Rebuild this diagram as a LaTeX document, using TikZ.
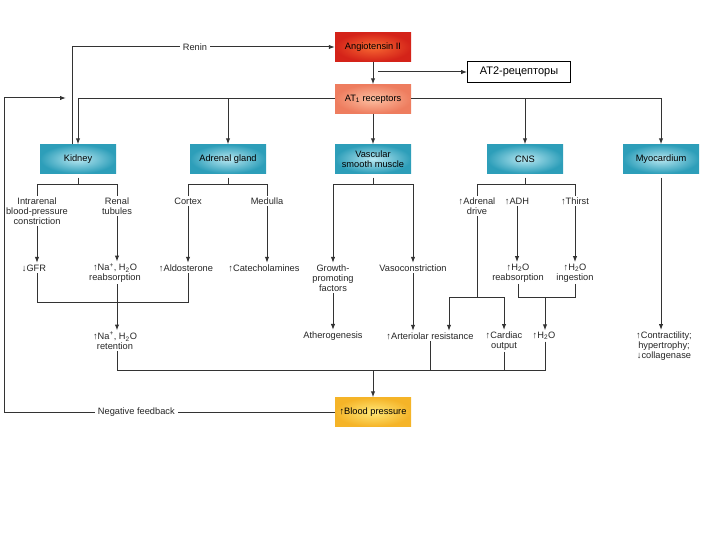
\documentclass[tikz,border=0pt]{standalone}
\usepackage{fontspec}
\setmainfont{Liberation Sans}
\usetikzlibrary{arrows.meta}
\definecolor{angin}{RGB}{248,105,50}
\definecolor{angout}{RGB}{212,35,25}
\definecolor{atin}{RGB}{252,192,162}
\definecolor{atout}{RGB}{238,125,95}
\definecolor{orgin}{RGB}{185,232,242}
\definecolor{orgout}{RGB}{45,158,185}
\definecolor{bpin}{RGB}{255,232,120}
\definecolor{bpout}{RGB}{245,180,40}
\begin{document}
\begin{tikzpicture}[x=1bp,y=-1bp,
    font=\fontsize{9.3}{10}\selectfont,
    ln/.style={line width=1pt, black!80},
    arr/.style={ln, -{Latex[length=6bp,width=4.4bp]}},
    box/.style={minimum width=76bp, minimum height=29bp, inner sep=1pt, align=center, shading=radial},
    organ/.style={box, inner color=orgin, outer color=orgout},
    txt/.style={align=center, inner sep=1.5pt, text=black!85},
    lbl/.style={fill=white, inner sep=3pt, text=black!85}]
  \useasboundingbox (0,0) rectangle (720,540);
  \node[box, inner color=angin, outer color=angout] (ang) at (373,47) {Angiotensin II};
  \node[box, inner color=atin, outer color=atout] (at1) at (373,99) {AT\textsubscript{1} receptors};
  \node[draw, line width=0.6pt, minimum width=103bp, minimum height=21bp, inner sep=1pt,
    font=\fontsize{11}{12}\selectfont] (at2) at (519,72) {AT2-рецепторы};
  \node[organ] (kidney) at (78,159) {Kidney};
  \node[organ] (adrenal) at (228,159) {Adrenal gland};
  \node[organ] (vsm) at (373,159) {Vascular\\smooth muscle};
  \node[organ] (cns) at (525,159) {CNS};
  \node[organ] (myo) at (661,159) {Myocardium};
  \node[box, inner color=bpin, outer color=bpout] (bp) at (373,412) {↑Blood pressure};

  \node[txt] (intra) at (37,211) {Intrarenal\\blood-pressure\\constriction};
  \node[txt] (tub) at (117,206) {Renal\\tubules};
  \node[txt] (cortex) at (188,201) {Cortex};
  \node[txt] (medulla) at (267,201) {Medulla};
  \node[txt] (drive) at (477,206) {↑Adrenal\\drive};
  \node[txt] (adh) at (517,201) {↑ADH};
  \node[txt] (thirst) at (575,201) {↑Thirst};

  \node[txt] (gfr) at (34,268) {↓GFR};
  \node[txt] (reab) at (115,273) {↑Na\textsuperscript{+}, H\textsubscript{2}O\\reabsorption};
  \node[txt] (aldo) at (186,268) {↑Aldosterone};
  \node[txt] (cate) at (264,268) {↑Catecholamines};
  \node[txt] (growth) at (333,278) {Growth-\\promoting\\factors};
  \node[txt] (vaso) at (413,268) {Vasoconstriction};
  \node[txt] (h2oreab) at (518,273) {↑H\textsubscript{2}O\\reabsorption};
  \node[txt] (ingest) at (575,273) {↑H\textsubscript{2}O\\ingestion};

  \node[txt] (ret) at (115,341) {↑Na\textsuperscript{+}, H\textsubscript{2}O\\retention};
  \node[txt] (athero) at (333,336) {Atherogenesis};
  \node[txt] (arter) at (430,336) {↑Arteriolar resistance};
  \node[txt] (card) at (504,341) {↑Cardiac\\output};
  \node[txt] (h2o) at (544,336) {↑H\textsubscript{2}O};
  \node[txt] (contr) at (664,346) {↑Contractility;\\hypertrophy;\\↓collagenase};

  \coordinate (a2) at (378,72);
  \coordinate (fbc) at (4,98);
  \coordinate (fbe) at (66,98);
  \coordinate (kj) at (117,302.5);
  \coordinate (dj) at (477,297);
  \coordinate (hj) at (545,297);
  \coordinate (bj) at (373,370);

  \draw[arr] (ang) -- (at1);
  \draw[arr] (a2) -- (at2);
  \draw[arr] ([xshift=-6bp]kidney.north) |- node[lbl, pos=0.734] {Renin} (ang);
  \draw[arr] (bp) -| node[lbl, pos=0.3] {Negative feedback} (fbc) -- (fbe);
  \draw[arr] (at1.west) -| (kidney.north);
  \draw[arr] (at1.west) -| (adrenal.north);
  \draw[arr] (at1) -- (vsm);
  \draw[arr] (at1.east) -| (cns.north);
  \draw[arr] (at1.east) -| (myo.north);

  \draw[ln] ([yshift=-4bp]kidney.south) -- ([yshift=-11bp]kidney.south) coordinate (kb);
  \draw[ln] (intra.north) |- (kb) -| (tub.north);
  \draw[ln] ([yshift=-4bp]adrenal.south) -- ([yshift=-11bp]adrenal.south) coordinate (ab);
  \draw[ln] (cortex.north) |- (ab) -| (medulla.north);
  \draw[ln] ([yshift=-4bp]vsm.south) -- ([yshift=-11bp]vsm.south) coordinate (vb);
  \draw[arr] (vb) -| (growth.north);
  \draw[arr] (vb) -| (vaso.north);
  \draw[ln] ([yshift=-4bp]cns.south) -- ([yshift=-11bp]cns.south) coordinate (cb);
  \draw[ln] (drive.north) |- (cb) -| (thirst.north);
  \draw[arr] ([yshift=-4bp]myo.south) -- (myo |- contr.north);

  \draw[arr] (intra) -- (intra |- gfr.north);
  \draw[arr] (tub) -- (tub |- reab.north);
  \draw[arr] (cortex) -- (cortex |- aldo.north);
  \draw[arr] (medulla) -- (medulla |- cate.north);
  \draw[arr] (adh) -- (adh |- h2oreab.north);
  \draw[arr] (thirst) -- (thirst |- ingest.north);

  \draw[ln] (intra |- gfr.south) |- (kj);
  \draw[ln] (cortex |- aldo.south) |- (kj);
  \draw[arr] (tub |- reab.south) -- (tub |- ret.north);
  \draw[arr] (growth) -- (athero);
  \draw[arr] (vaso) -- (vaso |- arter.north);
  \draw[ln] (drive) -- (dj);
  \draw[arr] (dj) -| ([xshift=19bp]arter.north);
  \draw[arr] (dj) -| (card.north);
  \draw[ln] (h2oreab) |- (hj);
  \draw[ln] (ingest) |- (hj);
  \draw[arr] (hj) -- (hj |- h2o.north);

  \draw[ln] (tub |- ret.south) |- (bj);
  \draw[ln] (arter) |- (bj);
  \draw[ln] (card) |- (bj);
  \draw[ln] (hj |- h2o.south) |- (bj);
  \draw[arr] (bj) -- (bp);
\end{tikzpicture}
\end{document}
